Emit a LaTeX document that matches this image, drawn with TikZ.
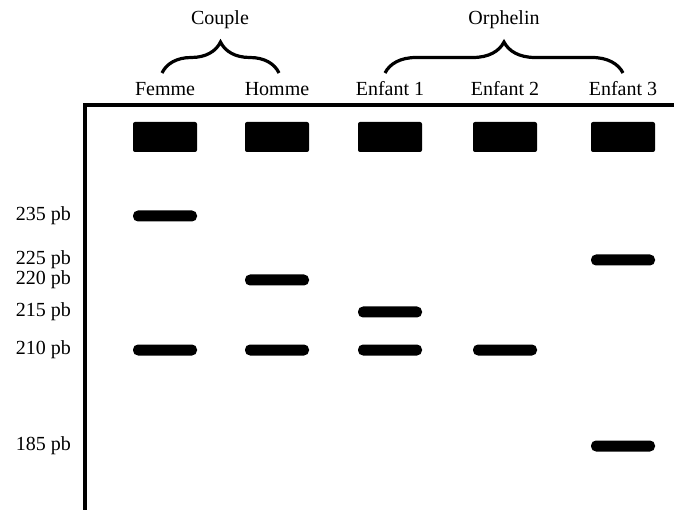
\documentclass[tikz,border=0pt]{standalone}
\usepackage{fontspec}
\setmainfont{Liberation Serif}
\usetikzlibrary{decorations.pathreplacing}

\begin{document}
\begin{tikzpicture}[x=1pt, y=-1pt,
  well/.style={fill=black, rounded corners=2pt, minimum width=64pt,
               minimum height=30pt, inner sep=0pt},
  band/.style={fill=black, rounded corners=5pt, minimum width=64pt,
               minimum height=11pt, inner sep=0pt},
  lane/.style={font=\fontsize{20}{23}\selectfont, inner sep=0pt},
  size/.style={anchor=east, font=\fontsize{20}{23}\selectfont, inner sep=0pt},
  grp/.style={decorate, decoration={brace, amplitude=31pt}, line width=3.2pt}
]
\useasboundingbox (0,0) rectangle (674,510);
% gel frame
\coordinate (o) at (85,105);
\draw[line width=3.5pt] (674,105) -- (o) -- (85,510);

% lanes and wells
\foreach \name/\x/\txt in {fem/165/Femme, hom/277/Homme, en1/390/Enfant 1,
                           en2/505/Enfant 2, en3/623/Enfant 3} {
  \node[lane] (\name) at (\x,89) {\txt};
  \node[well] (w\name) at (\x,137) {};
}

% size markers
\foreach \s/\y in {235/216, 225/260, 220/280, 215/312, 210/350, 185/446}
  \node[size] (s\s) at (71,\y) {\s{} pb};

% bands
\foreach \l/\s in {fem/235, fem/210, hom/220, hom/210, en1/215, en1/210,
                   en2/210, en3/225, en3/185}
  \node[band] (b\l\s) at (w\l |- s\s) {};

% groups
\draw[grp] (162,73) -- (279,73);
\node[lane] (couple) at (220,20) {Couple};
\draw[grp] (385,73) -- (623,73);
\node[lane] (orph) at (504,20) {Orphelin};
\end{tikzpicture}
\end{document}
